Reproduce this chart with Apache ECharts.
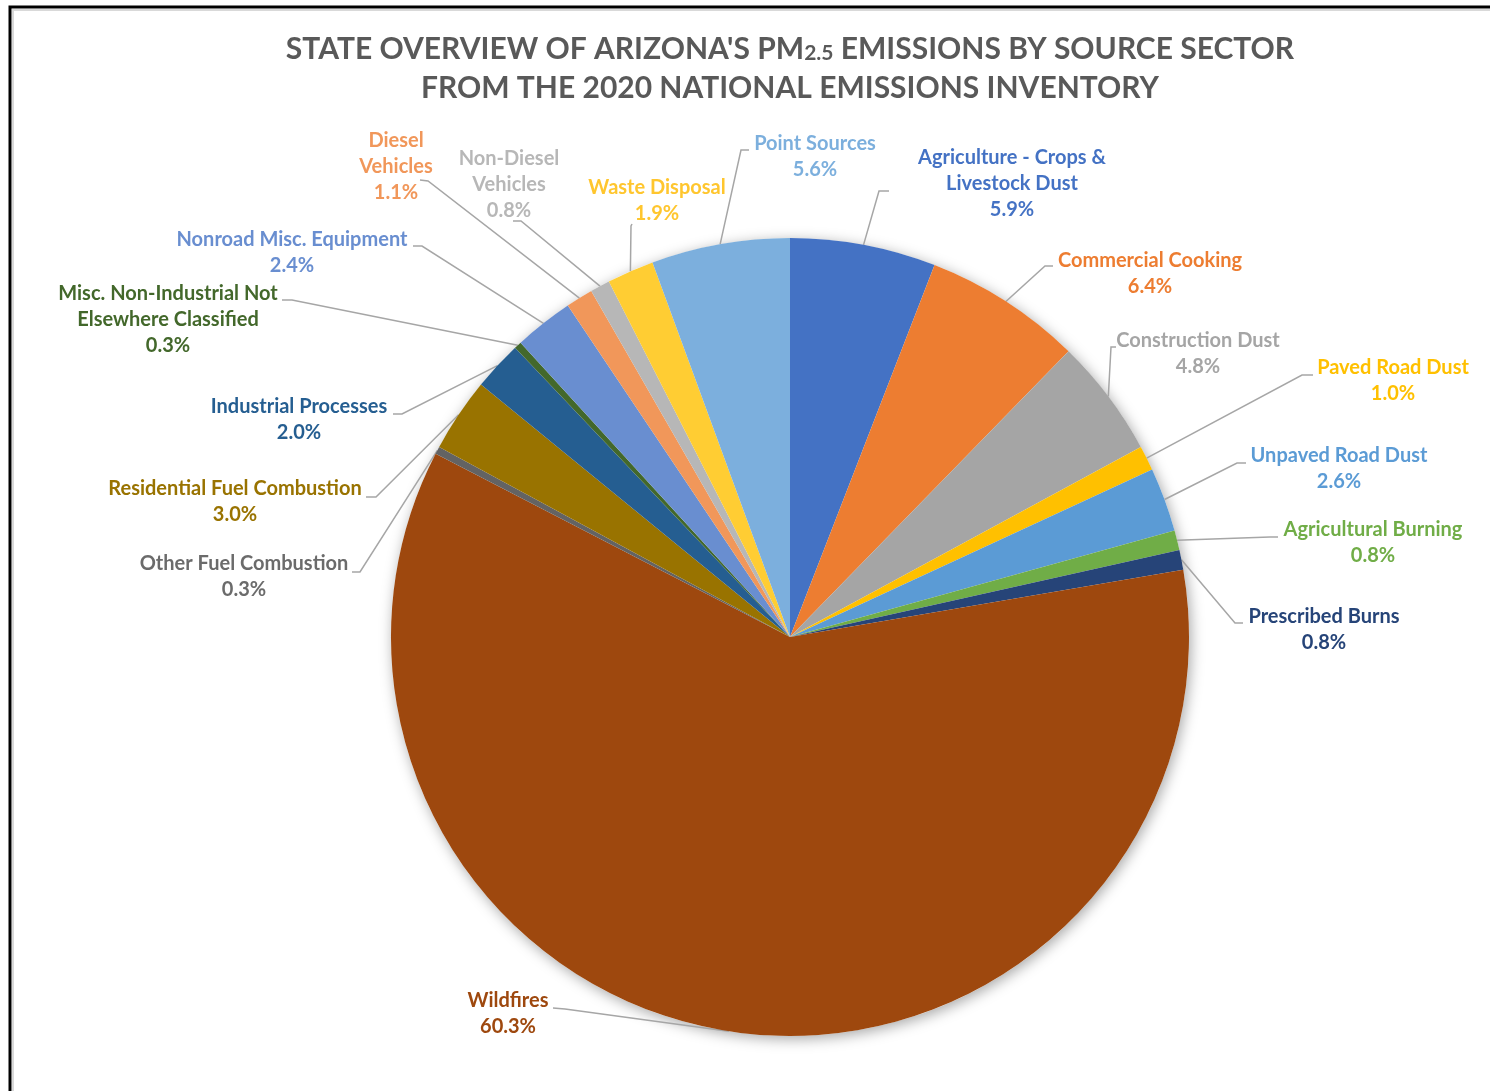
<!DOCTYPE html>
<html>
<head>
<meta charset="utf-8">
<script src="https://cdn.jsdelivr.net/npm/echarts@6/dist/echarts.min.js"></script>
<style>
html,body{margin:0;padding:0;background:#fff;}
#chart{width:1490px;height:1091px;}
</style>
</head>
<body>
<div id="chart"></div>
<script>
// ---- DATA (clockwise from 12 o'clock) ----
const categories = [
  "Agriculture - Crops &\nLivestock Dust",
  "Commercial Cooking",
  "Construction Dust",
  "Paved Road Dust",
  "Unpaved Road Dust",
  "Agricultural Burning",
  "Prescribed Burns",
  "Wildfires",
  "Other Fuel Combustion",
  "Residential Fuel Combustion",
  "Industrial Processes",
  "Misc. Non-Industrial Not\nElsewhere Classified",
  "Nonroad Misc. Equipment",
  "Diesel\nVehicles",
  "Non-Diesel\nVehicles",
  "Waste Disposal",
  "Point Sources"
];
const percentValues = [5.9, 6.4, 4.8, 1.0, 2.6, 0.8, 0.8, 60.3, 0.3, 3.0, 2.0, 0.3, 2.4, 1.1, 0.8, 1.9, 5.6];
const titleLine1 = ["STATE OVERVIEW OF ARIZONA'S PM", "2.5", " EMISSIONS BY SOURCE SECTOR"];
const titleLine2 = "FROM THE 2020 NATIONAL EMISSIONS INVENTORY";

// ---- STYLE ----
const sliceColors = ["#4472C4","#ED7D31","#A5A5A5","#FFC000","#5B9BD5","#70AD47","#264478","#9E480E",
  "#636363","#997300","#255E91","#43682B","#698ED0","#F1975A","#B7B7B7","#FFCD33","#7CAFDD"];
const textColors = ["#4472C4","#ED7D31","#A5A5A5","#FFC000","#5B9BD5","#70AD47","#264478","#9E480E",
  "#6B6B6B","#997300","#255E91","#43682B","#698ED0","#F1975A","#B7B7B7","#FFC62E","#7CAFDD"];

// label layout: cx = text centre x, y1 = first-line centre y, anchor (ax,ay), elbow (ex,ey)
const labelLayoutTable = [
  {cx:1012, y1:158, ax:889, ay:191, ex:879, ey:191},
  {cx:1150, y1:261, ax:1053, ay:266, ex:1045, ey:266},
  {cx:1198, y1:341, ax:1116, ay:347, ex:1111, ey:347},
  {cx:1393, y1:368, ax:1313, ay:375, ex:1302, ey:375},
  {cx:1339, y1:456, ax:1246, ay:463, ex:1237, ey:463},
  {cx:1373, y1:530, ax:1278, ay:537, ex:1270, ey:537},
  {cx:1324, y1:617, ax:1243, ay:623, ex:1235, ey:623},
  {cx:508,  y1:1001, ax:553, ay:1008, ex:565, ey:1009},
  {cx:244,  y1:564, ax:352, ay:572, ex:360, ey:572},
  {cx:235,  y1:489, ax:366, ay:497, ex:376, ey:497},
  {cx:299,  y1:407, ax:393, ay:414, ex:402, ey:414},
  {cx:168,  y1:294, ax:282, ay:300, ex:292, ey:300},
  {cx:292,  y1:240, ax:413, ay:246, ex:422, ey:246},
  {cx:396,  y1:141, ax:420, ay:180, ex:428, ey:181},
  {cx:509,  y1:159, ax:513, ay:221, ex:521, ey:221},
  {cx:657,  y1:188, ax:632, ay:224, ex:631, ey:226},
  {cx:815,  y1:144, ax:749, ay:150, ex:741, ey:150}
];

const FONT = "Lato";
const seriesData = categories.map((c, i) => ({
  name: c,
  value: percentValues[i],
  itemStyle: {color: sliceColors[i]},
  label: {color: textColors[i]}
}));
const total = percentValues.reduce((a, b) => a + b, 0);

const chart = echarts.init(document.getElementById('chart'), null, {renderer: 'canvas'});
chart.setOption({
  backgroundColor: '#ffffff',
  animation: false,
  graphic: [
    {type: 'rect', z: 100, silent: true, shape: {x: 13, y: 10, width: 1500, height: 1200},
     style: {fill: null, stroke: '#d9d9d9', lineWidth: 2}},
    {type: 'rect', z: 101, silent: true, shape: {x: 10, y: 7, width: 1500, height: 1200},
     style: {fill: null, stroke: '#000000', lineWidth: 3}},
    {type: 'text', x: 790, y: 46, z: 50, style: {
      text: '{m|' + titleLine1[0] + '}{s|' + titleLine1[1] + '}{m|' + titleLine1[2] + '}',
      align: 'center', verticalAlign: 'middle',
      rich: {
        m: {fontFamily: FONT, fontWeight: 'bold', fontSize: 30, fill: '#595959', verticalAlign: 'bottom', lineHeight: 36},
        s: {fontFamily: FONT, fontWeight: 'bold', fontSize: 21, fill: '#595959', verticalAlign: 'bottom', lineHeight: 32}
      }
    }},
    {type: 'text', x: 790, y: 88, z: 50, style: {
      text: titleLine2, align: 'center', verticalAlign: 'middle',
      fontFamily: FONT, fontWeight: 'bold', fontSize: 30, fill: '#595959'
    }}
  ],
  series: [
    {
      type: 'pie', silent: true, z: 1,
      center: [790, 637], radius: 399,
      label: {show: false}, labelLine: {show: false},
      data: [{value: total, name: 'all', itemStyle: {color: '#ffffff', shadowBlur: 14, shadowColor: 'rgba(0,0,0,0.35)', shadowOffsetX: 2, shadowOffsetY: 3}}]
    },
    {
      type: 'pie', z: 2,
      center: [790, 637], radius: 399,
      startAngle: 90, clockwise: true,
      avoidLabelOverlap: false,
      itemStyle: {borderWidth: 0},
      label: {
        show: true, position: 'outside',
        fontFamily: FONT, fontWeight: 'bold', fontSize: 20, lineHeight: 26,
        align: 'center',
        formatter: p => p.name + '\n' + p.value.toFixed(1) + '%'
      },
      labelLine: {show: true, length: 10, length2: 10, lineStyle: {color: '#a6a6a6', width: 1.5}},
      labelLayout: function (p) {
        const L = labelLayoutTable[p.dataIndex];
        const pts = p.labelLinePoints;
        const p0 = pts && pts[0] ? pts[0] : [L.ex, L.ey];
        return {
          x: L.cx, y: L.y1 - 13, align: 'center', verticalAlign: 'top',
          labelLinePoints: [p0, [L.ex, L.ey], [L.ax, L.ay]]
        };
      },
      data: seriesData
    }
  ]
});
</script>
</body>
</html>
